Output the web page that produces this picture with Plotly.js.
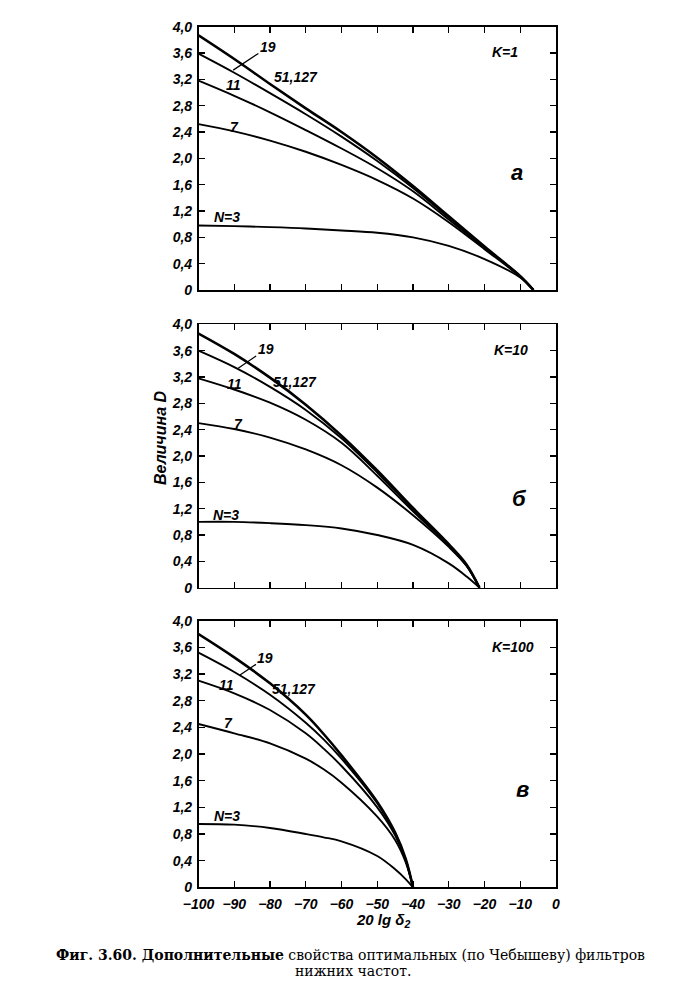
<!DOCTYPE html>
<html>
<head>
<meta charset="utf-8">
<script src="https://cdn.plot.ly/plotly-3.0.1.min.js"></script>
<style>
html,body{margin:0;padding:0;background:#fff;}
#chart{width:700px;height:1002px;}
</style>
</head>
<body>
<div id="chart"></div>
<script>
// ---- data ----
const xTickVals = [-100,-90,-80,-70,-60,-50,-40,-30,-20,-10,0];
const xTickText = ['−100','−90','−80','−70','−60','−50','−40','−30','−20','−10','0'];
const yTickVals = [0,0.4,0.8,1.2,1.6,2.0,2.4,2.8,3.2,3.6,4.0];
const yTickText = ['0','0,4','0,8','1,2','1,6','2,0','2,4','2,8','3,2','3,6','4,0'];

const seriesNames = ['51,127','19','11','7','N=3'];

// Panel а: K=1
const xA    = [-100,-90,-80,-70,-60,-50,-40,-30,-20,-10,-6.3];
const dA127 = [3.87,3.51,3.13,2.76,2.40,2.01,1.58,1.12,0.66,0.21,0];
const dA19  = [3.59,3.30,2.99,2.67,2.33,1.96,1.55,1.10,0.65,0.21,0];
const dA11  = [3.18,2.95,2.70,2.43,2.15,1.85,1.50,1.07,0.64,0.21,0];
const dA7   = [2.52,2.41,2.27,2.10,1.90,1.67,1.39,1.03,0.62,0.20,0];
const dA3   = [0.98,0.97,0.955,0.935,0.905,0.87,0.80,0.67,0.47,0.19,0];

// Panel б: K=10
const xB    = [-100,-90,-80,-70,-60,-50,-40,-30,-25,-21.4];
const dB127 = [3.86,3.55,3.19,2.78,2.31,1.78,1.21,0.66,0.35,0];
const dB19  = [3.60,3.35,3.05,2.70,2.27,1.75,1.19,0.65,0.34,0];
const dB11  = [3.18,3.01,2.81,2.55,2.20,1.70,1.16,0.64,0.33,0];
const dB7   = [2.50,2.41,2.28,2.10,1.86,1.52,1.10,0.62,0.33,0];
const dB3   = [1.00,1.00,0.98,0.95,0.90,0.80,0.65,0.37,0.17,0];

// Panel в: K=100
const xC    = [-100,-90,-80,-70,-65,-60,-50,-45,-42,-40];
const dC127 = [3.80,3.45,3.06,2.59,2.30,1.98,1.28,0.82,0.42,0];
const dC19  = [3.52,3.23,2.89,2.47,2.22,1.93,1.26,0.81,0.41,0];
const dC11  = [3.10,2.91,2.66,2.31,2.08,1.82,1.20,0.78,0.40,0];
const dC7   = [2.45,2.31,2.16,1.93,1.77,1.57,1.06,0.71,0.37,0];
const dC3   = [0.95,0.94,0.89,0.80,0.75,0.69,0.47,0.27,0.12,0];

const panelK = ['K=1','K=10','K=100'];
const panelLetters = ['а','б','в'];
const xTitle = '20 lg δ<sub>2</sub>';
const yTitle = 'Величина <i>D</i>';
const caption1 = '<b>Фиг. 3.60. Дополнительные</b> свойства оптимальных (по Чебышеву) фильтров';
const caption2 = 'нижних частот.';

// ---- build ----
const panels = [
  {x: xA, ys: [dA127,dA19,dA11,dA7,dA3]},
  {x: xB, ys: [dB127,dB19,dB11,dB7,dB3]},
  {x: xC, ys: [dC127,dC19,dC11,dC7,dC3]}
];

const traces = [];
panels.forEach((p, i) => {
  const ax = i === 0 ? '' : String(i + 1);
  p.ys.forEach((ys, j) => {
    traces.push({
      type: 'scatter', mode: 'lines', name: seriesNames[j],
      x: p.x, y: ys,
      xaxis: 'x' + ax, yaxis: 'y' + ax,
      line: {color: '#000', width: j === 0 ? 2.6 : 1.9, shape: 'spline', smoothing: 1},
      hoverinfo: 'skip', showlegend: false
    });
  });
});

const fam = '"Liberation Sans", Arial, sans-serif';
const tickFont = {family: fam, size: 14, color: '#000', style: 'italic', weight: 'bold'};
const lblFont = {family: fam, size: 14, color: '#000', style: 'italic', weight: 'bold'};

const xDom = [198.5/700, 556/700];
const yDoms = [
  [1-290/1002, 1-26.7/1002],
  [1-587.7/1002, 1-324.3/1002],
  [1-887.3/1002, 1-620.7/1002]
];

function xAxis(showLabels) {
  return {
    domain: xDom, range: [-100, 0], showgrid: false, zeroline: false,
    showline: true, linecolor: '#000', linewidth: 1.6, mirror: 'ticks',
    ticks: 'inside', ticklen: 6, tickwidth: 1.4, tickcolor: '#000',
    tickvals: xTickVals, ticktext: xTickText, showticklabels: showLabels,
    tickfont: tickFont, ticklabelstandoff: 3, fixedrange: true
  };
}
function yAxis(dom, anchor) {
  return {
    domain: dom, range: [0, 4], anchor: anchor, showgrid: false, zeroline: false,
    showline: true, linecolor: '#000', linewidth: 1.6, mirror: 'ticks',
    ticks: 'inside', ticklen: 6, tickwidth: 1.4, tickcolor: '#000',
    tickvals: yTickVals, ticktext: yTickText, tickfont: tickFont,
    ticklabelstandoff: 2, fixedrange: true
  };
}

const layout = {
  width: 700, height: 1002, autosize: false,
  margin: {l: 0, r: 0, t: 0, b: 0},
  paper_bgcolor: '#fff', plot_bgcolor: '#fff',
  showlegend: false,
  xaxis: Object.assign(xAxis(false), {anchor: 'y'}),
  yaxis: yAxis(yDoms[0], 'x'),
  xaxis2: Object.assign(xAxis(false), {anchor: 'y2'}),
  yaxis2: yAxis(yDoms[1], 'x2'),
  xaxis3: Object.assign(xAxis(true), {anchor: 'y3'}),
  yaxis3: yAxis(yDoms[2], 'x3'),
  annotations: []
};

// curve labels per panel: [text, x, y]
const curveLabelPos = [
  [['51,127', -72.7, 3.24], ['11', -90.1, 3.11], ['7', -89.8, 2.48], ['N=3', -92.0, 1.11]],
  [['51,127', -73.0, 3.13], ['11', -89.8, 3.09], ['7', -88.9, 2.49], ['N=3', -92.3, 1.11]],
  [['51,127', -73.2, 2.97], ['11', -92.2, 3.03], ['7', -91.7, 2.47], ['N=3', -92.0, 1.07]]
];
// "19" pointer: tip (x,y) on curve, offset of label in px
const pointer19 = [
  {x: -90.3, y: 3.34, ax: 34.7, ay: -23},
  {x: -89.0, y: 3.33, ax: 27.8, ay: -19},
  {x: -88.4, y: 3.185, ax: 25.5, ay: -17}
];
const kPos = [[-18.5, 3.62], [-17.9, 3.61], [-18.5, 3.60]];
const letterPos = [[-10.9, 1.79], [-10.1, 1.35], [-9.5, 1.46]];

for (let i = 0; i < 3; i++) {
  const ax = i === 0 ? '' : String(i + 1);
  curveLabelPos[i].forEach(c => {
    layout.annotations.push({xref: 'x' + ax, yref: 'y' + ax, x: c[1], y: c[2], text: c[0],
      showarrow: false, font: lblFont, xanchor: 'center', yanchor: 'middle'});
  });
  const p = pointer19[i];
  layout.annotations.push({xref: 'x' + ax, yref: 'y' + ax, x: p.x, y: p.y, text: '19',
    showarrow: true, arrowhead: 0, arrowwidth: 1.3, arrowcolor: '#000', ax: p.ax, ay: p.ay,
    standoff: 0, font: lblFont});
  layout.annotations.push({xref: 'x' + ax, yref: 'y' + ax, x: kPos[i][0], y: kPos[i][1], text: panelK[i],
    showarrow: false, font: lblFont, xanchor: 'left', yanchor: 'middle'});
  layout.annotations.push({xref: 'x' + ax, yref: 'y' + ax, x: letterPos[i][0], y: letterPos[i][1], text: panelLetters[i],
    showarrow: false, font: {family: fam, size: 22, color: '#000', style: 'italic', weight: 'bold'},
    xanchor: 'center', yanchor: 'middle'});
}

layout.annotations.push({xref: 'paper', yref: 'paper', x: 160.5/700, y: 1-438.5/1002, text: yTitle,
  textangle: -90, showarrow: false, xanchor: 'center', yanchor: 'middle',
  font: {family: fam, size: 16, color: '#000', style: 'italic', weight: 'bold'}});
layout.annotations.push({xref: 'paper', yref: 'paper', x: 383/700, y: 1-920/1002, text: xTitle,
  showarrow: false, xanchor: 'center', yanchor: 'middle',
  font: {family: fam, size: 15, color: '#000', style: 'italic', weight: 'bold'}});
const capFont = {family: '"DejaVu Serif", "Liberation Serif", serif', size: 14, color: '#000'};
layout.annotations.push({xref: 'paper', yref: 'paper', x: 350/700, y: 1-955/1002, text: caption1,
  showarrow: false, xanchor: 'center', yanchor: 'middle', font: capFont});
layout.annotations.push({xref: 'paper', yref: 'paper', x: 353/700, y: 1-971/1002, text: caption2,
  showarrow: false, xanchor: 'center', yanchor: 'middle', font: capFont});

Plotly.newPlot('chart', traces, layout, {displayModeBar: false, staticPlot: true});
</script>
</body>
</html>
